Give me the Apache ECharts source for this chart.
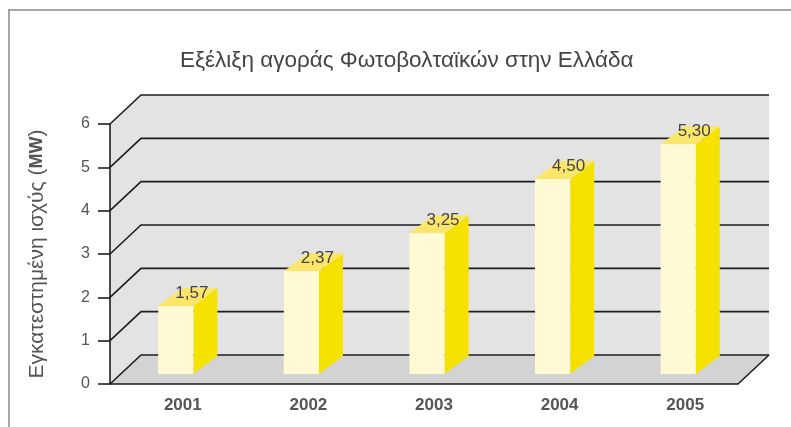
<!DOCTYPE html>
<html>
<head>
<meta charset="utf-8">
<script src="https://cdn.jsdelivr.net/npm/echarts@6/dist/echarts.min.js"></script>
<style>
  html, body { margin: 0; padding: 0; background: #fff; }
  #chart { width: 791px; height: 427px; }
</style>
</head>
<body>
<div id="chart"></div>
<script>
// Installed PV capacity in Greece, 2001–2005 (MW)
const years = ['2001', '2002', '2003', '2004', '2005'];
const capacityMW = [1.57, 2.37, 3.25, 4.50, 5.30];
const yTicks = [0, 1, 2, 3, 4, 5, 6];

const titleText = 'Εξέλιξη αγοράς Φωτοβολταϊκών στην Ελλάδα';
const yAxisTitle = 'Εγκατεστημένη ισχύς ({b|MW})';

// pseudo-3D geometry (pixels)
const WALL_DX = 31, WALL_DY = -29;     // depth of the back wall
const BAR_DX = 24, BAR_DY = -18;       // depth of each column
const BAR_SHIFT_X = 3, BAR_SHIFT_Y = -10; // columns stand a little inside the floor
const BAR_WIDTH_RATIO = 0.28;

const FONT = '"Liberation Sans", Arial, sans-serif';
const LINE = '#1e1e1e';

const chart = echarts.init(document.getElementById('chart'));

function fmt(v) { return v.toFixed(2).replace('.', ','); }

// back wall, left side wall and floor
function renderBox(params, api) {
  const cs = params.coordSys;
  const x0 = cs.x, x1 = cs.x + cs.width;
  const yTop = cs.y, yBot = cs.y + cs.height;
  return {
    type: 'group',
    children: [
      { type: 'polygon', shape: { points: [[x0 + WALL_DX, yTop + WALL_DY], [x1 + WALL_DX, yTop + WALL_DY], [x1 + WALL_DX, yBot + WALL_DY], [x0 + WALL_DX, yBot + WALL_DY]] },
        style: { fill: '#e3e3e3' } },
      { type: 'polygon', shape: { points: [[x0, yTop], [x0 + WALL_DX, yTop + WALL_DY], [x0 + WALL_DX, yBot + WALL_DY], [x0, yBot]] },
        style: { fill: '#e3e3e3' } },
      { type: 'polygon', shape: { points: [[x0, yBot], [x1, yBot], [x1 + WALL_DX, yBot + WALL_DY], [x0 + WALL_DX, yBot + WALL_DY]] },
        style: { fill: '#d3d3d3' } },
      { type: 'line', shape: { x1: x1, y1: yBot, x2: x1 + WALL_DX, y2: yBot + WALL_DY },
        style: { stroke: LINE, lineWidth: 1.6 } }
    ]
  };
}

// one gridline per y tick: diagonal on the side wall + horizontal on the back wall
function renderGridLine(params, api) {
  const cs = params.coordSys;
  const x0 = cs.x, x1 = cs.x + cs.width;
  const y = api.coord([0, api.value(1)])[1];
  return {
    type: 'polyline',
    shape: { points: [[x0, y], [x0 + WALL_DX, y + WALL_DY], [x1 + WALL_DX, y + WALL_DY]] },
    style: { stroke: LINE, lineWidth: 1.6, fill: null }
  };
}

// 3D column: front face, side face, top face and value label
function renderBar(params, api) {
  const idx = api.value(0);
  const v = api.value(1);
  const top = api.coord([idx, v]);
  const base = api.coord([idx, 0]);
  const w = api.size([1, 0])[0] * BAR_WIDTH_RATIO;
  const cx = top[0] + BAR_SHIFT_X;
  const yT = top[1] + BAR_SHIFT_Y;
  const yB = base[1] + BAR_SHIFT_Y;
  const xl = cx - w / 2, xr = cx + w / 2;
  return {
    type: 'group',
    children: [
      { type: 'polygon', shape: { points: [[xr, yB], [xr + BAR_DX, yB + BAR_DY], [xr + BAR_DX, yT + BAR_DY], [xr, yT]] },
        style: { fill: '#f6e200' } },
      { type: 'polygon', shape: { points: [[xl, yT], [xr, yT], [xr + BAR_DX, yT + BAR_DY], [xl + BAR_DX, yT + BAR_DY]] },
        style: { fill: '#fbe66c' } },
      { type: 'rect', shape: { x: xl, y: yT, width: w, height: yB - yT },
        style: { fill: '#fffad4' } },
      { type: 'text', x: cx + BAR_DX / 2 + 4, y: yT + BAR_DY / 2 - 4,
        style: { text: fmt(v), fill: '#444', font: '17px ' + FONT, align: 'center', verticalAlign: 'middle' } }
    ]
  };
}

chart.setOption({
  animation: false,
  backgroundColor: '#fff',
  title: {
    text: titleText,
    left: 175,
    top: 44,
    textStyle: { fontFamily: FONT, fontSize: 22.5, fontWeight: 'normal', color: '#444' }
  },
  grid: { left: 110, right: 53, top: 124, bottom: 43 },
  xAxis: {
    type: 'category',
    data: years,
    z: 10,
    axisLine: { lineStyle: { color: LINE, width: 1.6 } },
    axisTick: { length: 14, lineStyle: { color: LINE, width: 1.6 } },
    axisLabel: { margin: 13, padding: [0, 0, 0, 20], fontFamily: FONT, fontSize: 17, fontWeight: 'bold', color: '#555' }
  },
  yAxis: {
    type: 'value',
    min: 0, max: 6, interval: 1,
    z: 10,
    name: yAxisTitle,
    nameLocation: 'middle',
    nameRotate: 90,
    nameGap: 62,
    nameTextStyle: { fontFamily: FONT, fontSize: 21, color: '#555',
      rich: { b: { fontFamily: FONT, fontSize: 18, fontWeight: 'bold', color: '#555' } } },
    axisLine: { show: true, lineStyle: { color: LINE, width: 1.6 } },
    axisTick: { show: true, length: 12, lineStyle: { color: LINE, width: 1.6 } },
    axisLabel: { margin: 20, fontFamily: FONT, fontSize: 16, color: '#555' },
    splitLine: { show: false }
  },
  graphic: [
    { type: 'line', shape: { x1: 8, y1: 10, x2: 791, y2: 10 }, style: { stroke: '#8a8a8a', lineWidth: 1.5 }, silent: true },
    { type: 'line', shape: { x1: 9, y1: 10, x2: 9, y2: 427 }, style: { stroke: '#8a8a8a', lineWidth: 1.5 }, silent: true }
  ],
  series: [
    { type: 'custom', z: 1, silent: true, renderItem: renderBox, data: [[0, 0]], encode: { x: 0, y: 1 } },
    { type: 'custom', z: 2, silent: true, renderItem: renderGridLine, data: yTicks.map(t => [0, t]), encode: { x: 0, y: 1 } },
    { type: 'custom', z: 3, silent: true, renderItem: renderBar, data: capacityMW.map((v, i) => [i, v]), encode: { x: 0, y: 1 } }
  ]
});
</script>
</body>
</html>
